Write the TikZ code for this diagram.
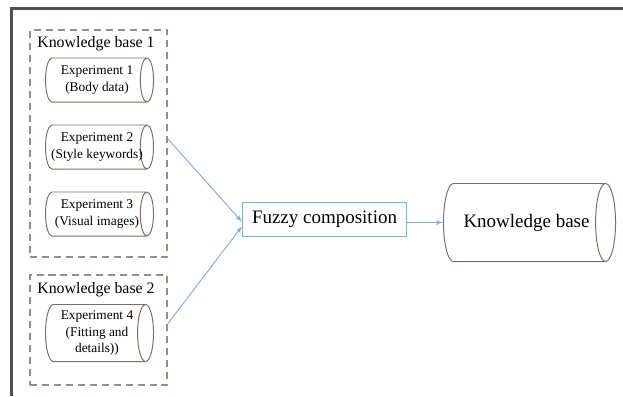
\documentclass[tikz,border=0pt]{standalone}
\usepackage{fontspec}
\setmainfont{Liberation Serif}
\usepackage{tikz}
\usepackage{xcolor}
\usetikzlibrary{arrows}
\usetikzlibrary{positioning}
\usetikzlibrary{shapes.geometric}

\definecolor{dbline}{HTML}{7E6C69}
\definecolor{kbdash}{HTML}{9C8A86}
\definecolor{linkblue}{HTML}{8EAADB}
\definecolor{framegray}{HTML}{505050}

\tikzset{
	expdb/.style={draw=dbline, line width=0.7pt, cylinder, shape aspect=0.3,
		minimum height=2.7cm, inner sep=0pt, anchor=west},
	exptext/.style={align=center, inner sep=0pt, font=\fontsize{9.5}{12}\selectfont},
	kbbox/.style={draw=kbdash, line width=0.9pt, dash pattern=on 5pt off 3.5pt,
		inner sep=0pt},
	kblabel/.style={font=\fontsize{11.3}{13}\selectfont, inner sep=0pt},
	link/.style={-latex', draw=linkblue, line width=0.7pt}
}

\begin{document}
\begin{tikzpicture}[x=0.025cm, y=-0.025cm]
				\useasboundingbox (0,0) rectangle (623,396);
				\draw[framegray, line width=1.6pt] (623,8.5) -| (11.5,396);
				\node[kbbox, minimum width=3.425cm, minimum height=5.675cm] (kb1) at (98.5, 143.5) {};
				\node[kbbox, minimum width=3.425cm, minimum height=2.75cm] (kb2) at (98.5, 330) {};
				\node[kblabel] (kb1lab) at (96, 44) {Knowledge base 1};
				\node[kblabel] (kb2lab) at (96, 290) {Knowledge base 2};
				\node[expdb] (exp1) at (45, 80) {\rule[-0.55cm]{0pt}{1.1cm}};
				\node[expdb] (exp2) at (45, 147) {\rule[-0.55cm]{0pt}{1.1cm}};
				\node[expdb] (exp3) at (45, 214) {\rule[-0.55cm]{0pt}{1.1cm}};
				\node[expdb, shape aspect=0.28] (exp4) at (45, 333) {\rule[-0.7125cm]{0pt}{1.425cm}};
				\node[exptext] (exp1t) at (97, 80) {Experiment 1\\(Body data)};
				\node[exptext] (exp2t) at (97, 147) {Experiment 2\\(Style keywords)};
				\node[exptext] (exp3t) at (97, 214) {Experiment 3\\(Visual images)};
				\node[exptext] (exp4t) at (97, 333) {Experiment 4\\(Fitting and\\details))};
				\node[draw=linkblue, line width=0.6pt, minimum width=4.1cm, minimum height=0.85cm,
					font=\fontsize{13.5}{16}\selectfont] (fuzzy) at (324.5, 219) {Fuzzy composition};
				\node[expdb, shape aspect=0.256, minimum height=4.3cm] (kb) at (443, 222.5)
					{\rule[-0.975cm]{0pt}{1.95cm}};
				\node[font=\fontsize{13.5}{16}\selectfont, inner sep=0pt] (kbt) at (526.5, 223) {Knowledge base};
				\draw[link] (kb1.4.6) to (fuzzy.182.4);
				\draw[link] (kb2.5.8) to (fuzzy.185.9);
				\draw[link] (fuzzy.east |- kb.west) to (kb.west);
			\end{tikzpicture}
\end{document}
